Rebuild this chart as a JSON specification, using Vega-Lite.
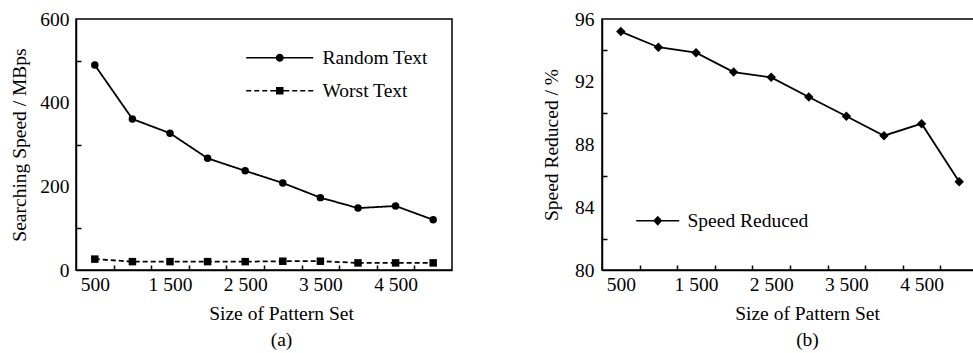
{
  "$schema": "https://vega.github.io/schema/vega-lite/v6.json",
  "padding": {"left": 9, "top": 8, "right": 0, "bottom": 0},
  "spacing": 87,
  "resolve": {"scale": {"shape": "independent"}, "legend": {"shape": "independent"}},
  "config": {
    "view": {"stroke": "black", "strokeWidth": 1.5},
    "axis": {
      "grid": false,
      "domainColor": "black",
      "domainWidth": 1.5,
      "tickColor": "black",
      "tickWidth": 1.5,
      "tickSize": -5,
      "labelFont": "Liberation Serif",
      "labelFontSize": 19.5,
      "labelColor": "black",
      "labelOverlap": false,
      "titleFont": "Liberation Serif",
      "titleFontSize": 19.5,
      "titleFontWeight": "normal",
      "titleColor": "black"
    },
    "legend": {
      "labelFont": "Liberation Serif",
      "labelFontSize": 19.5,
      "labelColor": "black"
    }
  },
  "hconcat": [
    {
      "width": 376,
      "height": 251,
      "data": {"values": [
        {"size": 500, "series": "Random Text", "speed": 490},
        {"size": 1000, "series": "Random Text", "speed": 361},
        {"size": 1500, "series": "Random Text", "speed": 327},
        {"size": 2000, "series": "Random Text", "speed": 267},
        {"size": 2500, "series": "Random Text", "speed": 237},
        {"size": 3000, "series": "Random Text", "speed": 208},
        {"size": 3500, "series": "Random Text", "speed": 173},
        {"size": 4000, "series": "Random Text", "speed": 148},
        {"size": 4500, "series": "Random Text", "speed": 153},
        {"size": 5000, "series": "Random Text", "speed": 120},
        {"size": 500, "series": "Worst Text", "speed": 26},
        {"size": 1000, "series": "Worst Text", "speed": 20},
        {"size": 1500, "series": "Worst Text", "speed": 20},
        {"size": 2000, "series": "Worst Text", "speed": 20},
        {"size": 2500, "series": "Worst Text", "speed": 20},
        {"size": 3000, "series": "Worst Text", "speed": 21},
        {"size": 3500, "series": "Worst Text", "speed": 21},
        {"size": 4000, "series": "Worst Text", "speed": 17},
        {"size": 4500, "series": "Worst Text", "speed": 17},
        {"size": 5000, "series": "Worst Text", "speed": 17}
      ]},
      "encoding": {
        "x": {
          "field": "size", "type": "quantitative",
          "scale": {"domain": [250, 5250], "nice": false, "zero": false},
          "axis": {
            "values": [500, 750, 1250, 1500, 1750, 2250, 2500, 2750, 3250, 3500, 3750, 4250, 4500, 4750],
            "labelExpr": "datum.value % 1000 === 500 ? replace(format(datum.value, ','), ',', ' ') : ''",
            "tickOpacity": {"condition": {"test": "datum.value % 1000 === 500", "value": 0}, "value": 1},
            "labelPadding": 10,
            "title": ["Size of Pattern Set", "(a)"],
            "titleLineHeight": 26,
            "titlePadding": 11,
            "titleX": 205
          }
        },
        "y": {
          "field": "speed", "type": "quantitative",
          "scale": {"domain": [0, 600], "nice": false},
          "axis": {
            "values": [0, 100, 200, 300, 400, 500, 600],
            "labelExpr": "datum.value % 200 === 0 ? datum.label : ''",
            "tickOpacity": {"condition": {"test": "datum.value % 200 === 0", "value": 0}, "value": 1},
            "labelPadding": 12,
            "title": "Searching Speed / MBps",
            "titlePadding": 10
          }
        }
      },
      "layer": [
        {
          "mark": {"type": "line", "color": "black", "strokeWidth": 1.8},
          "encoding": {
            "strokeDash": {
              "field": "series", "type": "nominal",
              "scale": {"domain": ["Random Text", "Worst Text"], "range": [[1, 0], [5, 3]]},
              "legend": null
            }
          }
        },
        {
          "transform": [{"filter": "datum.series === 'Random Text'"}],
          "mark": {"type": "point", "shape": "circle", "filled": true, "color": "black", "size": 56, "opacity": 1}
        },
        {
          "transform": [{"filter": "datum.series === 'Worst Text'"}],
          "mark": {"type": "point", "shape": "square", "filled": true, "color": "black", "size": 56, "opacity": 1}
        },
        {
          "transform": [{"filter": "datum.size === 500"}],
          "mark": {"type": "point", "filled": true, "color": "black", "size": 256, "opacity": 0},
          "encoding": {
            "shape": {
              "field": "series", "type": "nominal",
              "scale": {"domain": ["Random Text", "Worst Text"], "range": [
                "M-4.19,-0.1H-0.45V0.1H-4.19ZM0.45,-0.1H4.19V0.1H0.45ZM0.5,0A0.5,0.5,0,1,1,-0.5,0A0.5,0.5,0,1,1,0.5,0Z",
                "M-4.19,-0.1H-3.56V0.1H-4.19ZM-3.19,-0.1H-2.56V0.1H-3.19ZM-2.19,-0.1H-1.56V0.1H-2.19ZM-1.19,-0.1H-0.45V0.1H-1.19ZM-0.47,-0.47H0.47V0.47H-0.47ZM0.45,-0.1H1.19V0.1H0.45ZM1.56,-0.1H2.19V0.1H1.56ZM2.56,-0.1H3.19V0.1H2.56ZM3.56,-0.1H4.19V0.1H3.56Z"
              ]},
              "legend": {
                "title": null,
                "orient": "none",
                "legendX": 194,
                "legendY": 29,
                "padding": 0,
                "labelOffset": 33,
                "rowPadding": 12,
                "symbolSize": 256,
                "symbolStrokeWidth": 0,
                "symbolFillColor": "black",
                "symbolOpacity": 1
              }
            }
          }
        }
      ]
    },
    {
      "width": 376,
      "height": 251,
      "data": {"values": [
        {"size": 500, "series": "Speed Reduced", "reduced": 95.2},
        {"size": 1000, "series": "Speed Reduced", "reduced": 94.2},
        {"size": 1500, "series": "Speed Reduced", "reduced": 93.85},
        {"size": 2000, "series": "Speed Reduced", "reduced": 92.62},
        {"size": 2500, "series": "Speed Reduced", "reduced": 92.28},
        {"size": 3000, "series": "Speed Reduced", "reduced": 91.03},
        {"size": 3500, "series": "Speed Reduced", "reduced": 89.8},
        {"size": 4000, "series": "Speed Reduced", "reduced": 88.56},
        {"size": 4500, "series": "Speed Reduced", "reduced": 89.33},
        {"size": 5000, "series": "Speed Reduced", "reduced": 85.63}
      ]},
      "encoding": {
        "x": {
          "field": "size", "type": "quantitative",
          "scale": {"domain": [250, 5250], "nice": false, "zero": false},
          "axis": {
            "values": [500, 750, 1250, 1500, 1750, 2250, 2500, 2750, 3250, 3500, 3750, 4250, 4500, 4750],
            "labelExpr": "datum.value % 1000 === 500 ? replace(format(datum.value, ','), ',', ' ') : ''",
            "tickOpacity": {"condition": {"test": "datum.value % 1000 === 500", "value": 0}, "value": 1},
            "labelPadding": 10,
            "title": ["Size of Pattern Set", "(b)"],
            "titleLineHeight": 26,
            "titlePadding": 11,
            "titleX": 205
          }
        },
        "y": {
          "field": "reduced", "type": "quantitative",
          "scale": {"domain": [80, 96], "nice": false, "zero": false},
          "axis": {
            "values": [80, 82, 84, 86, 88, 90, 92, 94, 96],
            "labelExpr": "datum.value % 4 === 0 ? datum.label : ''",
            "tickOpacity": {"condition": {"test": "datum.value % 4 === 0", "value": 0}, "value": 1},
            "labelPadding": 13,
            "title": "Speed Reduced / %",
            "titlePadding": 13
          }
        }
      },
      "layer": [
        {
          "mark": {"type": "line", "color": "black", "strokeWidth": 1.8},
          "encoding": {}
        },
        {
          "mark": {"type": "point", "shape": "diamond", "filled": true, "color": "black", "size": 90, "opacity": 1}
        },
        {
          "transform": [{"filter": "datum.size === 500"}],
          "mark": {"type": "point", "filled": true, "color": "black", "size": 256, "opacity": 0},
          "encoding": {
            "shape": {
              "field": "series", "type": "nominal",
              "scale": {"domain": ["Speed Reduced"], "range": ["M-2.69,-0.1H-0.5V0.1H-2.69ZM0.5,-0.1H2.69V0.1H0.5ZM0,-0.62L0.58,0L0,0.62L-0.58,0Z"]},
              "legend": {
                "title": null,
                "orient": "none",
                "legendX": 46,
                "legendY": 192,
                "padding": 0,
                "labelOffset": 20,
                "symbolSize": 256,
                "symbolStrokeWidth": 0,
                "symbolFillColor": "black",
                "symbolOpacity": 1
              }
            }
          }
        }
      ]
    }
  ]
}
